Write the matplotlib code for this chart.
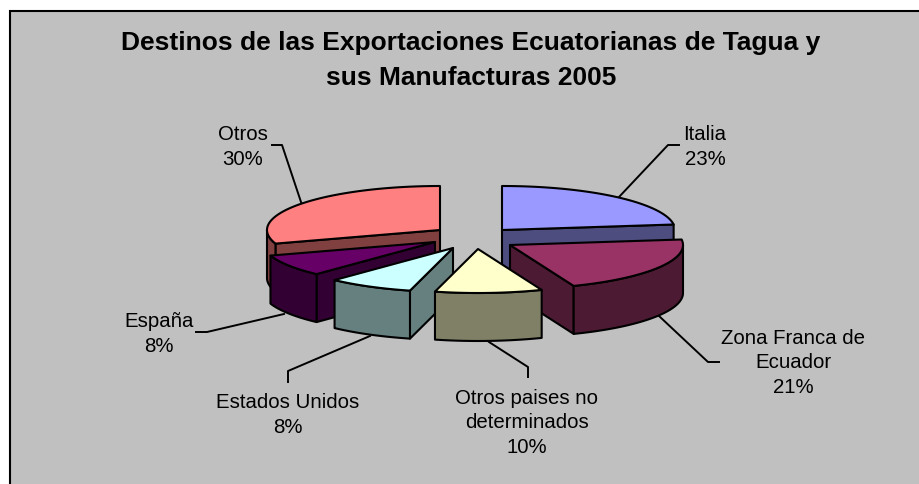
import numpy as np
import matplotlib
matplotlib.use('Agg')
import matplotlib.pyplot as plt
from matplotlib.patches import Polygon, Rectangle

plt.rcParams['font.family'] = ['Liberation Sans', 'DejaVu Sans']

# datos
destinos = ['Italia', 'Zona Franca de\nEcuador', 'Otros paises no\ndeterminados',
            'Estados Unidos', 'España', 'Otros']
valores = [23, 21, 10, 8, 8, 30]
titulo = 'Destinos de las Exportaciones Ecuatorianas de Tagua y\nsus Manufacturas 2005'

# colores: tapa y lado
tapa = ['#9999FF', '#993366', '#FFFFCC', '#CCFFFF', '#660066', '#FF8080']
lado = ['#4D4D80', '#4D1A33', '#808066', '#668080', '#330033', '#804040']

# layout en pixeles
centros = [(502, 230), (510, 245), (478, 249), (453, 248), (435, 242), (440, 230)]
rx, ry, prof = 173, 44, 48
orden = [5, 0, 4, 1, 3, 2]
pos_etiquetas = [(705, 147), (793, 363), (527, 423), (288, 415), (159, 334), (243, 147)]
guias = [
    [(679, 145), (668, 145), (619, 197)],
    [(719, 362), (708, 362), (659, 316)],
    [(528, 377), (528, 367), (489, 342)],
    [(288, 382), (288, 371), (370, 336)],
    [(196, 332), (207, 332), (284, 314)],
    [(272, 145), (282, 145), (302, 205)],
]

fig = plt.figure(figsize=(9.2, 4.84), dpi=100, facecolor='white')
ax = fig.add_axes([0, 0, 1, 1])
ax.set_xlim(0, 920)
ax.set_ylim(484, 0)
ax.axis('off')

ax.add_patch(Rectangle((10, 11), 930, 500, fc='#C0C0C0', ec='black', lw=1.5, zorder=0))

ax.text(471, 60.5, titulo, ha='center', va='center', fontsize=19, fontweight='bold',
        linespacing=1.55, color='black')


def punto(c, ang):
    return c[0] + rx * np.sin(ang), c[1] - ry * np.cos(ang)


def poligono(pts, color, z):
    ax.add_patch(Polygon(pts, closed=True, fc=color, ec='black', lw=1.5,
                         joinstyle='round', zorder=z))


# angulos acumulados desde las 12 en sentido horario
fin = np.cumsum(valores) / sum(valores) * 2 * np.pi
ini = np.concatenate([[0], fin[:-1]])

z = 2
for i in orden:
    c = centros[i]
    a0, a1 = ini[i], fin[i]

    # caras de corte visibles
    if np.sin(a0) < -1e-6:
        p = punto(c, a0)
        poligono([c, p, (p[0], p[1] + prof), (c[0], c[1] + prof)], lado[i], z)
    if np.sin(a1) > 1e-6:
        p = punto(c, a1)
        poligono([c, p, (p[0], p[1] + prof), (c[0], c[1] + prof)], lado[i], z)

    # borde exterior, solo la parte de adelante
    b0, b1 = max(a0, np.pi / 2), min(a1, 3 * np.pi / 2)
    if b1 > b0:
        t = np.linspace(b0, b1, 80)
        x, y = punto(c, t)
        arco = list(zip(x, y)) + list(zip(x[::-1], y[::-1] + prof))
        poligono(arco, lado[i], z)

    # tapa
    t = np.linspace(a0, a1, 120)
    x, y = punto(c, t)
    poligono([c] + list(zip(x, y)), tapa[i], z)
    z += 1

# guias y etiquetas
for i in range(len(valores)):
    xs, ys = zip(*guias[i])
    ax.plot(xs, ys, color='black', lw=1.4, zorder=1)
    ax.text(pos_etiquetas[i][0], pos_etiquetas[i][1], f'{destinos[i]}\n{valores[i]}%',
            ha='center', va='center', fontsize=14.7, linespacing=1.39, color='black')

plt.savefig('out.png', dpi=100)
